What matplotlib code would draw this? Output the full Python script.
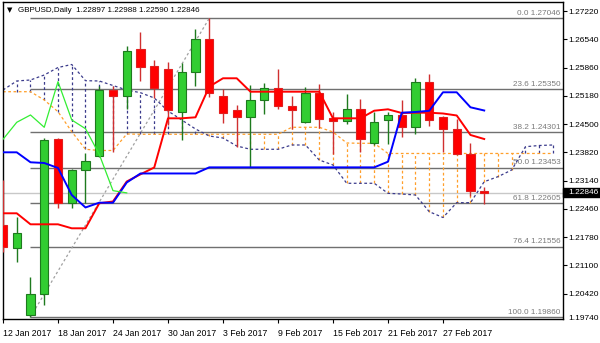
import matplotlib
matplotlib.use("Agg")
import matplotlib.pyplot as plt
from matplotlib.patches import Rectangle
import numpy as np

# ---------------- data ----------------
dates = ["12 Jan 2017", "13 Jan 2017", "16 Jan 2017", "17 Jan 2017", "18 Jan 2017",
         "19 Jan 2017", "20 Jan 2017", "23 Jan 2017", "24 Jan 2017", "25 Jan 2017",
         "26 Jan 2017", "27 Jan 2017", "30 Jan 2017", "31 Jan 2017", "1 Feb 2017",
         "2 Feb 2017", "3 Feb 2017", "6 Feb 2017", "7 Feb 2017", "8 Feb 2017",
         "9 Feb 2017", "10 Feb 2017", "13 Feb 2017", "14 Feb 2017", "15 Feb 2017",
         "16 Feb 2017", "17 Feb 2017", "20 Feb 2017", "21 Feb 2017", "22 Feb 2017",
         "23 Feb 2017", "24 Feb 2017", "27 Feb 2017", "28 Feb 2017", "1 Mar 2017",
         "2 Mar 2017"]

opens = [1.22074, 1.21520, 1.19909, 1.20407, 1.24135, 1.22596, 1.23389, 1.23741,
         1.25321, 1.25184, 1.26307, 1.25899, 1.25826, 1.24799, 1.25747, 1.26541,
         1.25184, 1.24840, 1.24672, 1.25088, 1.25369, 1.24936, 1.24544, 1.25242,
         1.24640, 1.24568, 1.24864, 1.24039, 1.24592, 1.24713, 1.24424, 1.25521,
         1.24679, 1.24383, 1.23774, 1.22897]
highs = [1.23156, 1.22273, 1.20830, 1.24159, 1.24160, 1.23420, 1.23798, 1.25417,
         1.25417, 1.26380, 1.26724, 1.26043, 1.26002, 1.25963, 1.26781, 1.27046,
         1.25345, 1.24960, 1.25441, 1.25482, 1.25819, 1.25184, 1.25386, 1.25466,
         1.24799, 1.25218, 1.25097, 1.24799, 1.24785, 1.25081, 1.25603, 1.25699,
         1.24700, 1.24616, 1.24039, 1.22988]
lows = [1.21424, 1.21191, 1.19860, 1.20149, 1.22490, 1.22490, 1.22596, 1.23717,
        1.23837, 1.24857, 1.25538, 1.25122, 1.24479, 1.24118, 1.25417, 1.25146,
        1.24520, 1.23957, 1.23476, 1.24737, 1.24864, 1.24383, 1.24520, 1.24400,
        1.23782, 1.24496, 1.23837, 1.23998, 1.24020, 1.24183, 1.24263, 1.24462,
        1.23837, 1.23750, 1.22771, 1.22590]
closes = [1.21544, 1.21888, 1.20407, 1.24118, 1.22596, 1.23389, 1.23620, 1.25321,
          1.25184, 1.26267, 1.25867, 1.25362, 1.24840, 1.25747, 1.26541, 1.25242,
          1.24775, 1.24672, 1.25081, 1.25369, 1.24936, 1.24840, 1.25242, 1.24624,
          1.24568, 1.24864, 1.24135, 1.24544, 1.24720, 1.24424, 1.25521, 1.24600,
          1.24390, 1.23774, 1.22900, 1.22846]

tenkan = [1.22355, 1.22355, 1.22090, 1.22090, 1.22090, 1.21994, 1.21994, 1.22596,
          1.22639, 1.23120, 1.23293, 1.23457, 1.24640, 1.24640, 1.24664, 1.25401,
          1.25603, 1.25603, 1.25280, 1.25280, 1.25280, 1.25280, 1.25280, 1.25280,
          1.24640, 1.24640, 1.24640, 1.24823, 1.24857, 1.24768, 1.24775, 1.24775,
          1.24756, 1.24708, 1.24239, 1.24142]
kijun = [1.23822, 1.23822, 1.23582, 1.23565, 1.23445, 1.22795, 1.22495, 1.22610,
         1.22610, 1.23096, 1.23313, 1.23313, 1.23313, 1.23313, 1.23313, 1.23460,
         1.23460, 1.23460, 1.23460, 1.23460, 1.23460, 1.23460, 1.23460, 1.23460,
         1.23460, 1.23460, 1.23460, 1.23460, 1.23596, 1.24775, 1.24792, 1.24821,
         1.25266, 1.25266, 1.24905, 1.24828]
span_a = [1.25280, 1.25280, 1.25280, 1.25081, 1.24799, 1.24318, 1.23895, 1.23866,
          1.23866, 1.24263, 1.24256, 1.24256, 1.24256, 1.24256, 1.24256, 1.24256,
          1.24256, 1.24256, 1.24256, 1.24256, 1.24256, 1.24424, 1.24424, 1.24424,
          1.24311, 1.24046, 1.24039, 1.24039, 1.23794, 1.23794, 1.23794, 1.23794,
          1.23794, 1.23794, 1.23794, 1.23794, 1.23794, 1.23794, 1.23794, 1.23794,
          1.23794]
span_b = [1.25321, 1.25538, 1.25562, 1.25682, 1.25862, 1.25935, 1.25545, 1.25538,
          1.25429, 1.25321, 1.25256, 1.25129, 1.24816, 1.24600, 1.24383, 1.24215,
          1.24166, 1.23974, 1.23895, 1.23895, 1.23895, 1.23998, 1.23998, 1.23637,
          1.23517, 1.23077, 1.23077, 1.23077, 1.22836, 1.22819, 1.22795, 1.22394,
          1.22254, 1.22610, 1.22610, 1.23115, 1.23236, 1.23397, 1.23957, 1.23986,
          1.23998]
chikou_shift = 26

fib_pcts = ["0.0", "23.6", "38.2", "50.0", "61.8", "76.4", "100.0"]
fib_prices = [1.27046, 1.25350, 1.24301, 1.23453, 1.22605, 1.21556, 1.19860]
fib_low_bar, fib_high_bar = 2, 15

price_ticks = [1.27220, 1.26540, 1.25860, 1.25180, 1.24500, 1.23820, 1.23140,
               1.22460, 1.21780, 1.21100, 1.20420]
bottom_tick = "1.19740"
title_text = "GBPUSD,Daily  1.22897 1.22988 1.22590 1.22846"
last_price = 1.22846

# ---------------- style ----------------
FONT = "Liberation Sans"
BULL_FILL, BULL_EDGE = "#32CD32", "#1E7A1E"
BEAR_FILL, BEAR_EDGE = "#FF0000", "#E02020"
ORANGE = "#FF9F2A"
NAVY = "#3B3B8C"
DASH = (0, (2.2, 2.0))

fig = plt.figure(figsize=(6, 3.43), dpi=100)
ax = fig.add_axes([3 / 600, 24 / 343, 560 / 600, 317 / 343])
ax.set_xlim(0, 40.73)
ax.set_ylim(1.19812, 1.27438)

# Fibonacci levels
xmax = ax.get_xlim()[1]
for pct, pr in zip(fib_pcts, fib_prices):
    ax.hlines(pr, fib_low_bar, xmax, colors="#707070", lw=1.0, zorder=1)
    ax.text(xmax - 0.2, pr + 0.0003, f"{pct} {pr:.5f}", ha="right", va="bottom",
            fontsize=5.9, color="#7a7a7a", family=FONT, zorder=2)
ax.plot([fib_low_bar, fib_high_bar], [fib_prices[-1], fib_prices[0]],
        color="#a0a0a0", lw=0.9, ls=(0, (2, 2)), zorder=1)

# bid line
ax.axhline(last_price, color="#c8c8c8", lw=1.0, zorder=1)

# Ichimoku cloud
xs = np.arange(len(span_a))
for i in xs:
    a, b = span_a[i], span_b[i]
    col = ORANGE if a >= b else NAVY
    ax.vlines(i, min(a, b), max(a, b), colors=col, lw=0.9, linestyles=DASH, zorder=2)
ax.plot(xs, span_a, color=ORANGE, lw=0.9, ls=DASH, zorder=2)
ax.plot(xs, span_b, color=NAVY, lw=0.9, ls=DASH, zorder=2)

# candles
x = np.arange(len(opens))
o = np.array(opens); c = np.array(closes); h = np.array(highs); l = np.array(lows)
up = c >= o
ax.vlines(x[up], l[up], h[up], colors=BULL_EDGE, lw=1.0, zorder=3)
ax.vlines(x[~up], l[~up], h[~up], colors="#d03030", lw=1.0, zorder=3)
ax.bar(x[up], (c - o)[up], bottom=o[up], width=0.6, color=BULL_FILL,
       edgecolor=BULL_EDGE, lw=0.8, zorder=4)
ax.bar(x[~up], (o - c)[~up], bottom=c[~up], width=0.6, color=BEAR_FILL,
       edgecolor=BEAR_EDGE, lw=0.8, zorder=4)

# Ichimoku lines
ax.plot(x, tenkan, color="#ff0000", lw=1.4, zorder=5)
ax.plot(x, kijun, color="#0000ff", lw=1.4, zorder=5)
ch = closes[chikou_shift:]
ax.plot(np.arange(len(ch)), ch, color="#33ee33", lw=0.9, zorder=5)

# axes styling
for s in ax.spines.values():
    s.set_color("black"); s.set_linewidth(1.0)
ax.yaxis.tick_right()
ax.set_yticks(price_ticks)
ax.set_yticklabels([f"{p:.5f}" for p in price_ticks])
ax.tick_params(axis="y", direction="out", length=3, width=0.8, pad=1.2,
               labelsize=6.0, colors="black")
tick_idx = list(range(0, 33, 4))
ax.set_xticks(tick_idx)
ax.set_xticklabels([dates[i] for i in tick_idx])
ax.tick_params(axis="x", direction="out", length=3, width=0.8, pad=4.5,
               labelsize=6.3)
for lab in ax.get_xticklabels() + ax.get_yticklabels():
    lab.set_family(FONT)
for lab in ax.get_xticklabels():
    lab.set_ha("left")

ax.text(1 + 5 / 560, 0.0, bottom_tick, transform=ax.transAxes, ha="left",
        va="center", fontsize=6.0, family=FONT, clip_on=False)

# current price marker
ax.add_patch(Rectangle((1.0, last_price - 0.00110), 37 / 560, 0.00220,
                       transform=ax.get_yaxis_transform(), facecolor="black",
                       edgecolor="black", clip_on=False, zorder=10))
ax.text(1 + 5 / 560, last_price, f"{last_price:.5f}", transform=ax.get_yaxis_transform(),
        ha="left", va="center", fontsize=6.0, family=FONT, color="white",
        clip_on=False, zorder=11)

# title
ax.text(4 / 560, 1 - 8 / 317, "\u25bc", transform=ax.transAxes, fontsize=5,
        va="center", ha="left", family="DejaVu Sans", zorder=12)
ax.text(15 / 560, 1 - 8 / 317, title_text, transform=ax.transAxes, fontsize=5.8,
        va="center", ha="left", family=FONT, zorder=12)

fig.savefig("out.png", dpi=100)
